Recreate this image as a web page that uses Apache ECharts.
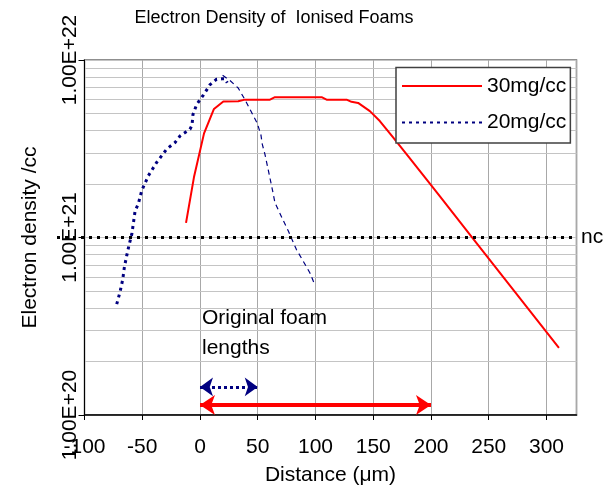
<!DOCTYPE html>
<html>
<head>
<meta charset="utf-8">
<script src="https://cdn.jsdelivr.net/npm/echarts@6/dist/echarts.min.js"></script>
<style>
html,body{margin:0;padding:0;background:#fff;}
#chart{width:608px;height:491px;}
</style>
</head>
<body>
<div id="chart"></div>
<script>
// ---- data ----
const titleText = 'Electron Density of  Ionised Foams';
const xName = 'Distance (\u03bcm)';
const yName = 'Electron density /cc';
const seriesNames = ['30mg/cc', '20mg/cc'];

const red30X = [-12.1, -5.2, 3.5, 12.1, 20.2, 33.1, 38.9, 60.6, 64.9, 105.3, 109.6, 126.9, 131.2, 136.9, 147.1, 155.7, 167.2, 178.8, 197.5, 207.6, 236.4, 310.8];
const red30Y = [1.21e21, 2.19e21, 3.86e21, 5.3e21, 5.84e21, 5.86e21, 5.98e21, 5.98e21, 6.17e21, 6.17e21, 5.98e21, 5.98e21, 5.81e21, 5.73e21, 5.15e21, 4.53e21, 3.66e21, 2.95e21, 2.07e21, 1.71e21, 9.85e20, 2.39e20];

const navy20X = [-72.1, -69.2, -66.9, -65.5, -63.4, -61.4, -59.1, -57.7, -56.2, -53.4, -50.4, -44.7, -37.5, -28.8, -21.6, -17.3, -14.4, -8.7, -6.9, -6.1, -2.9, 2.9, 8.7, 14.4, 19.0, 21.6, 23.6];
const navy20Y = [4.21e20, 4.95e20, 5.80e20, 6.79e20, 7.93e20, 9.08e20, 1.04e21, 1.20e21, 1.41e21, 1.55e21, 1.84e21, 2.23e21, 2.65e21, 3.15e21, 3.43e21, 3.73e21, 3.85e21, 4.07e21, 4.29e21, 4.93e21, 5.61e21, 6.34e21, 7.26e21, 7.80e21, 7.83e21, 7.83e21, 7.45e21];

const navy20TailX = [19.6, 25.9, 33.1, 38.9, 49.6, 52.8, 53.9, 56.2, 60.6, 62.9, 64.9, 71.5, 76.4, 83.6, 89.4, 95.2, 99.5];
const navy20TailY = [8.2e21, 7.67e21, 6.95e21, 5.98e21, 4.40e21, 3.77e21, 3.36e21, 2.95e21, 2.16e21, 1.83e21, 1.57e21, 1.27e21, 1.09e21, 8.53e20, 7.35e20, 6.31e20, 5.40e20];

const ncValue = 1e21;
const ncLabel = 'nc';
const minorGridValues = [2e20, 3e20, 4e20, 5e20, 6e20, 7e20, 8e20, 9e20, 2e21, 3e21, 4e21, 5e21, 6e21, 7e21, 8e21, 9e21];
const foamText = 'Original foam\nlengths';
const foam30 = [0, 200];
const foam20 = [0, 50];
const foam30Level = 1.14e20;
const foam20Level = 1.44e20;
const xMin = -100, xMax = 326, xStep = 50;
const yMin = 1e20, yMax = 1e22;

// ---- build ----
const zip = (xs, ys) => xs.map((x, i) => [x, ys[i]]);
const FONT = 'Liberation Sans, Arial, sans-serif';

const chart = echarts.init(document.getElementById('chart'), null, {renderer: 'canvas'});

const option = {
  animation: false,
  backgroundColor: '#fff',
  textStyle: {fontFamily: FONT},
  grid: {left: 84.5, right: 31.5, top: 60, bottom: 72.5, show: true, borderColor: '#6b6b6b', borderWidth: 1.5, backgroundColor: 'transparent'},
  legend: {
    data: seriesNames,
    orient: 'vertical',
    left: 396, top: 67.5, z: 20,
    padding: [8, 4, 10, 5],
    itemWidth: 80, itemHeight: 14, itemGap: 15.6,
    backgroundColor: '#fff',
    borderColor: '#404040', borderWidth: 1.5,
    itemStyle: {color: 'rgba(0,0,0,0)', borderWidth: 0, opacity: 0},
    textStyle: {fontSize: 21, color: '#000', fontFamily: FONT, lineHeight: 21},
    selectedMode: false
  },
  xAxis: {
    type: 'value', min: xMin, max: xMax, interval: xStep,
    name: xName, nameLocation: 'middle', nameGap: 50,
    nameTextStyle: {fontSize: 21, color: '#000', fontFamily: FONT},
    axisLine: {show: true, onZero: false, lineStyle: {color: '#000', width: 1.5}},
    axisTick: {show: true, inside: false, length: 5, lineStyle: {color: '#000'}},
    axisLabel: {fontSize: 21, color: '#000', margin: 22, showMaxLabel: false, fontFamily: FONT},
    splitLine: {show: true, lineStyle: {color: '#a8a8a8', width: 1}}
  },
  yAxis: {
    type: 'log', logBase: 10, min: yMin, max: yMax,
    name: yName, nameLocation: 'middle', nameGap: 44,
    nameTextStyle: {fontSize: 21, color: '#000', fontFamily: FONT},
    axisLine: {show: true, onZero: false, lineStyle: {color: '#000', width: 1}},
    axisTick: {show: true, inside: false, length: 6, lineStyle: {color: '#000'}},
    axisLabel: {fontSize: 21, color: '#000', rotate: 90, margin: 4, fontFamily: FONT,
      formatter: v => Number(v).toExponential(2).toUpperCase()},
    splitLine: {show: true, lineStyle: {color: '#c4c4c4', width: 1}},
    minorTick: {show: false}, minorSplitLine: {show: false}
  },
  series: [
    {
      name: '__grid', type: 'line', data: [], z: 0, silent: true,
      markLine: {
        z: 0, silent: true, symbol: ['none', 'none'], label: {show: false}, animation: false,
        lineStyle: {color: '#c4c4c4', type: 'solid', width: 1},
        data: minorGridValues.map(v => ({yAxis: v}))
      }
    },
    {
      name: seriesNames[0], type: 'line', data: zip(red30X, red30Y),
      symbol: 'none', showSymbol: false, smooth: false, z: 3,
      itemStyle: {color: '#ff0000'},
      lineStyle: {color: '#ff0000', width: 2},
      markLine: {
        z: 3, silent: true, symbol: ['arrow', 'arrow'], symbolSize: [15, 15], label: {show: false}, animation: false,
        lineStyle: {color: '#ff0000', type: 'solid', width: 4},
        data: [[{coord: [foam30[0], foam30Level]}, {coord: [foam30[1], foam30Level]}]]
      }
    },
    {
      name: seriesNames[1], type: 'line', data: zip(navy20X, navy20Y),
      symbol: 'none', showSymbol: false, smooth: false, z: 4,
      itemStyle: {color: '#000080'},
      lineStyle: {color: '#000080', width: 3, type: [3, 4]},
      markLine: {
        z: 4, silent: true, symbol: ['arrow', 'arrow'], symbolSize: [14, 13], label: {show: false}, animation: false,
        lineStyle: {color: '#000080', type: [3, 3], width: 3},
        data: [[{coord: [foam20[0], foam20Level]}, {coord: [foam20[1], foam20Level]}]]
      }
    },
    {
      name: seriesNames[1], type: 'line', data: zip(navy20TailX, navy20TailY),
      symbol: 'none', showSymbol: false, smooth: false, z: 4,
      itemStyle: {color: '#000080'},
      lineStyle: {color: '#000080', width: 1.2, type: [5, 4]}
    }
  ]
};
chart.setOption(option);

const ncY = chart.convertToPixel({gridIndex: 0}, [0, ncValue])[1];
chart.setOption({
  graphic: [
    {type: 'text', x: 274, y: 18, style: {text: titleText, font: '18px ' + FONT, fill: '#000', textAlign: 'center', textVerticalAlign: 'middle'}, z: 10},
    {type: 'text', x: 202, y: 303, style: {text: foamText, font: '21px ' + FONT, fill: '#000', lineHeight: 30, textAlign: 'left', textVerticalAlign: 'top'}, z: 10},
    {type: 'line', shape: {x1: 57, y1: ncY, x2: 574, y2: ncY}, style: {stroke: '#000', lineWidth: 3, lineDash: [3, 5]}, z: 20},
    {type: 'text', x: 579, y: ncY, style: {text: ncLabel, font: '21px ' + FONT, fill: '#000', textAlign: 'left', textVerticalAlign: 'middle', backgroundColor: '#fff', padding: [5, 2, 5, 2]}, z: 21}
  ]
});
</script>
</body>
</html>
